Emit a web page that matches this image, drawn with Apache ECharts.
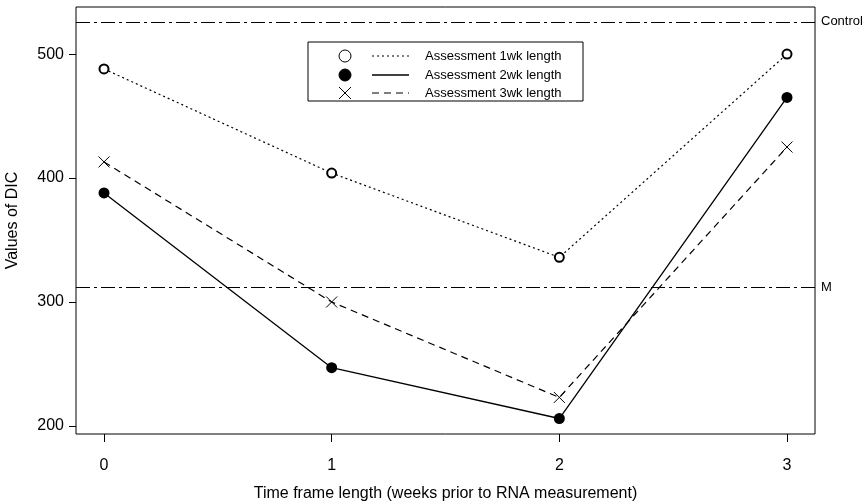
<!DOCTYPE html>
<html><head><meta charset="utf-8">
<script src="https://cdn.jsdelivr.net/npm/echarts@6/dist/echarts.min.js"></script>
<style>html,body{margin:0;padding:0;background:#fff}#c{width:866px;height:503px}</style>
</head><body><div id="c"></div>
<script>
const weeks = [0, 1, 2, 3];
const xTicks = [0, 1, 2, 3];
const yTicks = [200, 300, 400, 500];
const seriesNames = ['Assessment 1wk length', 'Assessment 2wk length', 'Assessment 3wk length'];
const dic1wk = [488, 404, 336, 500];
const dic2wk = [388, 247, 206, 465];
const dic3wk = [413, 300, 223, 425];
const refLines = [{name: 'Control', value: 526}, {name: 'M', value: 312}];

const FONT = 'Liberation Sans, Arial, Helvetica, sans-serif';
const crossPath = 'path://M0,0L10,10M10,0L0,10';
const pairs = arr => weeks.map((w, i) => [w, arr[i]]);

const chart = echarts.init(document.getElementById('c'), null, {renderer: 'canvas'});
const lx = 308, ly = 42;
chart.setOption({
  animation: false,
  backgroundColor: '#fff',
  grid: {left: 76, right: 51, top: 7, bottom: 69, show: true, borderColor: '#000', borderWidth: 1, containLabel: false, outerBoundsMode: 'none'},
  xAxis: {
    type: 'value', min: -0.123, max: 3.123,
    name: 'Time frame length (weeks prior to RNA measurement)', nameLocation: 'middle', nameGap: 52,
    nameTextStyle: {fontFamily: FONT, fontSize: 16, color: '#000'},
    axisLine: {show: false, onZero: false}, splitLine: {show: false},
    axisTick: {show: true, length: 8, inside: false, customValues: xTicks, lineStyle: {color: '#000'}},
    axisLabel: {customValues: xTicks, margin: 24, fontFamily: FONT, fontSize: 16, color: '#000'}
  },
  yAxis: {
    type: 'value', min: 193.5, max: 538,
    name: 'Values of DIC', nameLocation: 'middle', nameGap: 55, nameRotate: 90,
    nameTextStyle: {fontFamily: FONT, fontSize: 16, color: '#000'},
    axisLine: {show: false, onZero: false}, splitLine: {show: false},
    axisTick: {show: true, length: 7, customValues: yTicks, lineStyle: {color: '#000'}},
    axisLabel: {customValues: yTicks, margin: 12, fontFamily: FONT, fontSize: 16, color: '#000'}
  },
  series: [
    {
      name: seriesNames[0], type: 'line', data: pairs(dic1wk),
      symbol: 'emptyCircle', symbolSize: 9,
      lineStyle: {color: '#000', width: 1.2, type: [2, 3]},
      itemStyle: {color: '#000', borderColor: '#000', borderWidth: 0.9},
      markLine: {
        silent: true, symbol: 'none',
        lineStyle: {color: '#000', width: 1, type: [14, 4, 3, 4]},
        label: {show: true, position: 'end', distance: 6, formatter: '{b}', fontFamily: FONT, fontSize: 13, color: '#000'},
        data: refLines.map(r => ({name: r.name, yAxis: r.value}))
      }
    },
    {
      name: seriesNames[1], type: 'line', data: pairs(dic2wk),
      symbol: 'circle', symbolSize: 11,
      lineStyle: {color: '#000', width: 1.3, type: 'solid'},
      itemStyle: {color: '#000'}
    },
    {
      name: seriesNames[2], type: 'line', data: pairs(dic3wk),
      symbol: crossPath, symbolSize: 11,
      lineStyle: {color: '#000', width: 1.2, type: [7, 5]},
      itemStyle: {color: 'rgba(0,0,0,0)', borderColor: '#000', borderWidth: 1}
    }
  ],
  graphic: [
    {type: 'rect', shape: {x: lx, y: ly, width: 275, height: 59}, style: {fill: '#fff', stroke: '#000', lineWidth: 1}, z: 50},
    {type: 'circle', shape: {cx: 345, cy: 56, r: 6}, style: {fill: '#fff', stroke: '#000', lineWidth: 1}, z: 51},
    {type: 'circle', shape: {cx: 345, cy: 75, r: 6}, style: {fill: '#000', stroke: '#000'}, z: 51},
    {type: 'polyline', shape: {points: [[339, 87], [351, 99]]}, style: {stroke: '#000', lineWidth: 1}, z: 51},
    {type: 'polyline', shape: {points: [[351, 87], [339, 99]]}, style: {stroke: '#000', lineWidth: 1}, z: 51},
    {type: 'line', shape: {x1: 372, y1: 56, x2: 409, y2: 56}, style: {stroke: '#000', lineWidth: 1.2, lineDash: [2, 3]}, z: 51},
    {type: 'line', shape: {x1: 372, y1: 75, x2: 409, y2: 75}, style: {stroke: '#000', lineWidth: 1.3}, z: 51},
    {type: 'line', shape: {x1: 372, y1: 93, x2: 409, y2: 93}, style: {stroke: '#000', lineWidth: 1.2, lineDash: [7, 5]}, z: 51},
    {type: 'text', x: 425, y: 56, style: {text: seriesNames[0], font: '13px ' + FONT, fill: '#000', verticalAlign: 'middle'}, z: 51},
    {type: 'text', x: 425, y: 75, style: {text: seriesNames[1], font: '13px ' + FONT, fill: '#000', verticalAlign: 'middle'}, z: 51},
    {type: 'text', x: 425, y: 93, style: {text: seriesNames[2], font: '13px ' + FONT, fill: '#000', verticalAlign: 'middle'}, z: 51}
  ]
});
</script></body></html>
